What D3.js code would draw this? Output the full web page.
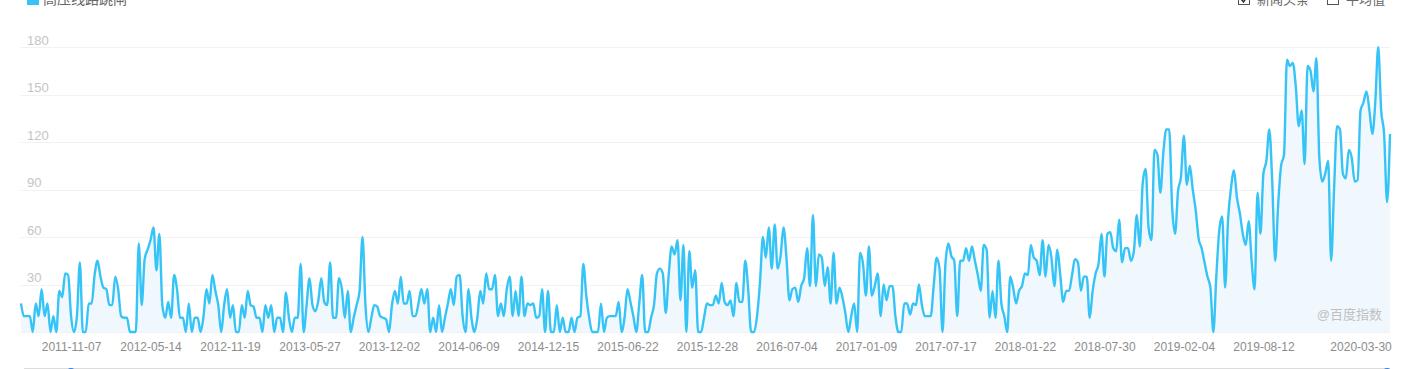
<!DOCTYPE html>
<html lang="zh">
    <head>
        <meta charset="utf-8">
        <title>百度指数</title>
        <script type="text/javascript" src="https://cdnjs.cloudflare.com/ajax/libs/d3/7.8.5/d3.min.js"></script>
        <style>
            body { margin: 0; background: #fff; }
            svg { display: block; font-family: "Liberation Sans", "Noto Sans CJK SC", sans-serif; }
            .grid line { stroke: #f2f2f2; }
            .xaxis text { fill: #8c8c8c; font-size: 12px; }
            .ylab { fill: #c4c4c4; font-size: 13px; }
        </style>
    </head>
    <body>
        <div id="chart"></div>
        <script type="text/javascript">
            // weekly categories start here
            var startDate = "2011-07-11";
            var seriesName = "高压线路跳闸";
            var legendRight = ["新闻头条", "平均值"];
            var tickLabels = ["2011-11-07", "2012-05-14", "2012-11-19", "2013-05-27", "2013-12-02",
                "2014-06-09", "2014-12-15", "2015-06-22", "2015-12-28", "2016-07-04", "2017-01-09",
                "2017-07-17", "2018-01-22", "2018-07-30", "2019-02-04", "2019-08-12", "2020-03-30"];
            var yTicks = [30, 60, 90, 120, 150, 180];

            var values2011 = [18,10,10,10,0,18,10,27,10,18,0,10,0,26,22,37,36,10,0,10,
                44,0,0,18,18,36,45,35,28,27,17,17,35,27,10,9,9,0,0,0,
                56,17,46,52,58,66,39,62,17,9,19,9,36,27,9,9,0,18,0,9,
                9,0,10,27,18,36,26,17,0,17,27,9,17,0,0,17,9,26,17,16,
                9,9,0,17,9,17,0,9,9,0,25,9,0,9,9,43,0,17,34,17,
                13,20,34,19,17,44,9,9,34,27,9,26];
            var values2013 = [0,9,17,26,60,17,0,9,17,16,10,9,8,0,17,26,18,35,18,18,
                26,10,10,18,27,18,27,0,9,0,17,0,9,18,27,17,35,36,10,0,
                27,9,0,9,26,18,37,27,27,36,10,18,10,27,35,10,26,10,35,10,18];
            var values2015 = [17,18,9,10,27,0,26,0,0,17,0,9,0,0,9,0,9,10,43,23,
                9,0,0,0,18,0,9,10,10,10,19,0,9,27,19,10,0,18,36,0,
                0,9,17,37,40,37,12,36,54,49,58,20,55,0,51,28,39,0,0,9,18];
            var values2016 = [17,17,23,18,31,19,17,20,10,31,19,19,45,27,0,0,10,31,60,47,
                66,40,68,40,48,66,47,20,27,28,19,29,34,53,29,74,29,49,47,29,
                41,18,50,18,28,22,12,0,10,18,0,50,43,23,54,23,29,37,10,30,20];
            var values2017 = [29,29,10,0,0,18,18,11,18,17,30,17,10,10,10,29,47,40,0,43,
                56,48,45,10,45,45,53,45,54,45,36,26,55,52,9,26,9,45,18,10,
                0,35,28,18,26,29,37,36,55,47,45,36,58,35,55,47,29,52,36,19,26];
            var values2018 = [26,36,46,44,26,35,35,9,26,37,43,62,35,62,63,53,51,71,44,53,
                53,45,51,74,54,94,103,66,58,115,112,88,113,128,128,79,62,89,98,124,
                93,105,90,77,59,53,44,35,28,0,35,64,73,28,71,91,102];
            var values2019 = [85,75,62,55,70,45,27,88,62,100,108,128,95,45,80,105,112,172,168,170,
                155,130,140,106,168,165,152,173,110,95,100,108,45,90,130,128,100,97,115,110,
                95,96,140,145,152,140,125,145,180,140,125,82,125];

            var width = 1405;
            var height = 369;
            var plotLeft = 21, plotRight = 1390, plotTop = 47, plotBottom = 332;

            var values = [].concat(values2011, values2013, values2015, values2016, values2017, values2018, values2019);
            var fmt = d3.timeFormat("%Y-%m-%d");
            var start = d3.timeParse("%Y-%m-%d")(startDate);
            var dates = values.map(function(d, i){ return fmt(d3.timeDay.offset(start, 7 * i)); });
            var data = values.map(function(v, i){ return {date: dates[i], value: v}; });

            var xScale = d3.scalePoint().domain(dates).range([plotLeft, plotRight]);
            var yScale = d3.scaleLinear().domain([0, 180]).range([plotBottom, plotTop]);

            var svg = d3.select("#chart").append("svg")
                .attr("width", width)
                .attr("height", height);

            // horizontal grid lines
            svg.append("g")
                .attr("class", "grid")
                .selectAll("line")
                .data([0].concat(yTicks))
                .enter().append("line")
                .attr("x1", plotLeft).attr("x2", plotRight)
                .attr("y1", function(d){ return Math.round(yScale(d)) + 0.5; })
                .attr("y2", function(d){ return Math.round(yScale(d)) + 0.5; });

            svg.selectAll(".ylab")
                .data(yTicks)
                .enter().append("text")
                .attr("class", "ylab")
                .attr("x", 27)
                .attr("y", function(d){ return yScale(d) - 2.5; })
                .text(function(d){ return d; });

            // area + line
            var area = d3.area()
                .x(function(d){ return xScale(d.date); })
                .y0(plotBottom)
                .y1(function(d){ return yScale(d.value); })
                .curve(d3.curveMonotoneX);
            var line = d3.line()
                .x(function(d){ return xScale(d.date); })
                .y(function(d){ return yScale(d.value); })
                .curve(d3.curveMonotoneX);

            svg.append("path")
                .datum(data)
                .attr("d", area)
                .attr("fill", "#f0f8fe");
            svg.append("path")
                .datum(data)
                .attr("d", line)
                .attr("fill", "none")
                .attr("stroke", "#36c4f6")
                .attr("stroke-width", 2.4)
                .attr("stroke-linejoin", "round");

            // x axis
            var xAxis = d3.axisBottom(xScale)
                .tickValues(tickLabels)
                .tickSize(0)
                .tickPadding(10);
            var gx = svg.append("g")
                .attr("class", "xaxis")
                .attr("transform", "translate(0," + plotBottom + ")")
                .call(xAxis);
            gx.select(".domain").remove();
            gx.selectAll("text").attr("font-family", null);

            // watermark
            svg.append("text")
                .attr("x", 1382).attr("y", 319)
                .attr("text-anchor", "end")
                .attr("fill", "#c0c0c0")
                .attr("font-size", 13)
                .text("@百度指数");

            // legend left (clipped by top edge)
            svg.append("rect")
                .attr("x", 27).attr("y", -7).attr("width", 12).attr("height", 12)
                .attr("fill", "#36c4f6");
            svg.append("text")
                .attr("x", 43).attr("y", 4)
                .attr("fill", "#666")
                .attr("font-size", 14)
                .text(seriesName);

            // legend right: checkboxes
            var boxes = [{x: 1238, checked: true}, {x: 1327, checked: false}];
            boxes.forEach(function(b, i){
                svg.append("rect")
                    .attr("x", b.x + 0.5).attr("y", -6.5).attr("width", 11).attr("height", 11)
                    .attr("fill", "#fff").attr("stroke", "#555");
                if (b.checked) {
                    svg.append("path")
                        .attr("d", "M" + (b.x + 3) + ",-1 L" + (b.x + 5.5) + ",2 L" + (b.x + 9.5) + ",-4")
                        .attr("fill", "none").attr("stroke", "#333").attr("stroke-width", 1.5);
                }
                svg.append("text")
                    .attr("x", b.x + 19).attr("y", 4)
                    .attr("fill", "#666")
                    .attr("font-size", 13)
                    .text(legendRight[i]);
            });

            // data zoom slider top edge
            svg.append("line")
                .attr("x1", 24).attr("x2", 1390)
                .attr("y1", 368.5).attr("y2", 368.5)
                .attr("stroke", "#dcdcdc");
            svg.selectAll(".handle")
                .data([71, 1387])
                .enter().append("circle")
                .attr("cx", function(d){ return d; })
                .attr("cy", 372)
                .attr("r", 4)
                .attr("fill", "#2f80f0");
        </script>
    </body>
</html>
